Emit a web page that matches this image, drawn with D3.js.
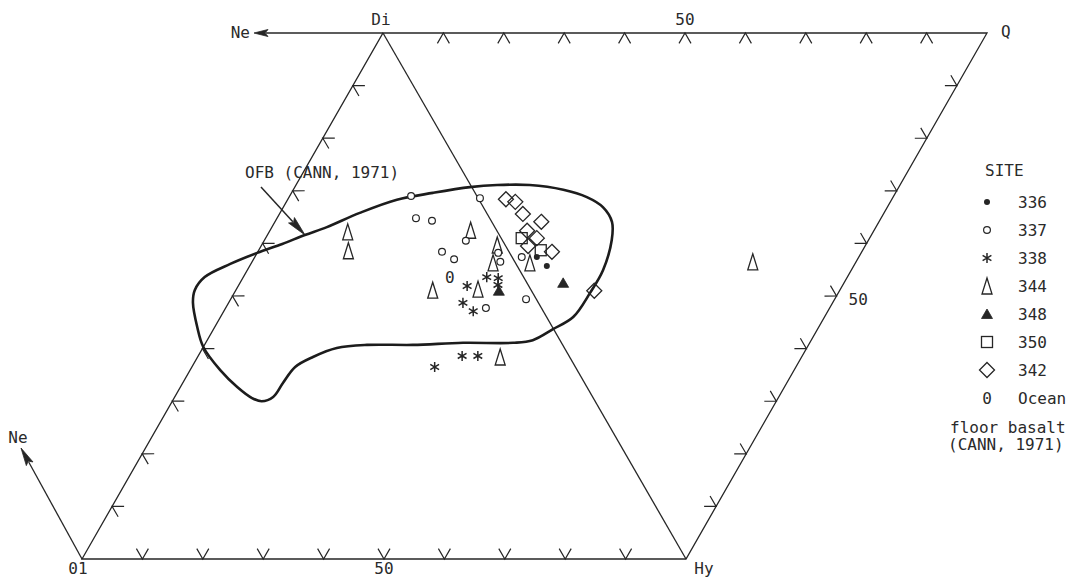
<!DOCTYPE html>
<html>
<head>
<meta charset="utf-8">
<script src="https://cdn.jsdelivr.net/npm/d3@7"></script>
<style>
  html, body { margin: 0; padding: 0; background: #fff; }
  svg text { font-family: "DejaVu Sans Mono", monospace; font-size: 16px; fill: #2a2a2a; }
</style>
</head>
<body>
<svg id="chart" width="1069" height="579"></svg>
<script>
// Normative compositions, [Ol, Di, Hy, Q] in percent
const site336 = [[0, 53.3, 42.6, 4.1], [0, 50.8, 44.3, 4.9]];
const site337 = [
  [10.9, 69.0, 20.1, 0], [0, 68.3, 31.4, 0.3], [12.2, 64.8, 23.0, 0], [9.8, 64.3, 25.9, 0],
  [6.1, 60.5, 33.4, 0], [11.1, 58.4, 30.5, 0], [9.8, 57.0, 33.2, 0], [1.9, 58.2, 39.9, 0],
  [2.4, 56.5, 41.1, 0], [0, 55.8, 42.6, 1.6], [9.2, 47.7, 43.1, 0], [1.7, 49.4, 48.9, 0]
];
const site338 = [
  [6.1, 53.6, 40.3, 0], [4.3, 53.4, 42.3, 0], [5.0, 52.1, 42.9, 0], [10.2, 51.9, 37.9, 0],
  [12.5, 48.7, 38.8, 0], [11.6, 47.1, 41.3, 0], [23.3, 36.5, 40.2, 0], [17.7, 38.6, 43.7, 0],
  [15.1, 38.6, 46.3, 0]
];
const site344 = [
  [24.8, 62.2, 13.0, 0], [26.5, 58.6, 14.9, 0], [4.3, 62.5, 33.2, 0], [1.3, 59.7, 39.0, 0],
  [3.7, 56.3, 40.0, 0], [0, 53.9, 43.7, 2.4], [16.3, 51.1, 32.6, 0], [8.7, 51.3, 40.0, 0],
  [11.5, 38.4, 50.1, 0], [0, 17.1, 43.5, 39.4]
];
const site348 = [[0, 46.5, 47.5, 6.0], [5.4, 51.0, 43.6, 0]];
const site350 = [[0, 57.6, 39.0, 3.4], [0, 53.3, 41.3, 5.4]];
const site342 = [
  [0, 63.9, 31.6, 4.5], [0, 62.1, 32.1, 5.8], [0, 59.7, 34.4, 5.9], [0, 55.9, 35.9, 8.2],
  [0, 57.4, 37.6, 5.0], [0, 55.1, 39.0, 5.9], [0, 55.8, 40.5, 3.7], [0, 51.3, 41.6, 7.1],
  [0, 40.6, 49.0, 10.4]
];
// Average ocean-floor basalt (Cann, 1971)
const oceanFloorBasalt = [[12.2, 53.6, 34.2, 0]];

// OFB field outline, projected coordinates [Di+Q, Hy+Q] in percent
const ofbOutline = [
  [61.6, 6.2], [63.1, 9.1], [65.8, 13.2], [68.3, 18.1], [69.6, 23.4], [70.7, 29.0],
  [71.1, 33.3], [71.1, 38.7], [70.2, 44.7], [68.8, 49.3], [66.9, 52.9], [64.1, 55.8],
  [60.6, 57.5], [54.9, 58.9], [50.6, 58.9], [46.0, 58.4], [43.7, 56.2], [41.6, 53.9],
  [41.1, 50.9], [41.1, 42.6], [40.7, 34.5], [40.7, 26.9], [40.1, 22.2], [38.4, 19.1],
  [36.5, 17.1], [33.5, 16.6], [30.8, 16.3], [30.0, 14.8], [30.6, 12.9], [32.7, 9.4],
  [35.9, 5.0], [40.3, 0.0], [44.1, -2.9], [48.7, -5.9], [51.1, -6.8], [53.6, -6.4],
  [56.1, -3.4], [58.2, 0.0], [59.9, 3.3]
];

const tickSteps = [10, 20, 30, 40, 50, 60, 70, 80, 90];
const legendKeys = ["336", "337", "338", "344", "348", "350", "342", "Ocean"];
const legendLabels = ["336", "337", "338", "344", "348", "350", "342", "Ocean"];

const svg = d3.select("#chart");
const ink = "#262626";

// Oblique projection: Di+Q runs up the Ol–Di edge, Hy+Q runs along Ol–Hy
const hyScale = d3.scaleLinear().domain([0, 100]).range([82, 686]);
const diShift = d3.scaleLinear().domain([0, 100]).range([0, 301]);
const diScale = d3.scaleLinear().domain([0, 100]).range([559, 33]);
const pos = (u, v) => [hyScale(v) + diShift(u), diScale(u)];
const project = ([ol, di, hy, q]) => pos(di + q, hy + q);

const P = { Ol: pos(0, 0), Hy: pos(0, 100), Di: pos(100, 0), Q: pos(100, 100) };

// Frame: parallelogram Ol–Hy–Q–Di and the Di–Hy join
const frame = svg.append("g").attr("stroke", ink).attr("stroke-width", 1.3).attr("fill", "none");
frame.append("path").attr("d", d3.line()([P.Ol, P.Hy, P.Q, P.Di]) + "Z");
frame.append("path").attr("d", d3.line()([P.Di, P.Hy]));

// Chevron tick marks every 10 %
function chevron(apex, normal, len) {
  const rot = (a) => {
    const c = Math.cos(a), s = Math.sin(a);
    return [normal[0] * c - normal[1] * s, normal[0] * s + normal[1] * c];
  };
  const a1 = rot(Math.PI / 6), a2 = rot(-Math.PI / 6);
  return d3.line()([
    [apex[0] + a1[0] * len, apex[1] + a1[1] * len],
    apex,
    [apex[0] + a2[0] * len, apex[1] + a2[1] * len]
  ]);
}
function unitNormal(a, b, inside) {
  const dx = b[0] - a[0], dy = b[1] - a[1], L = Math.hypot(dx, dy);
  let n = [-dy / L, dx / L];
  const mx = (a[0] + b[0]) / 2, my = (a[1] + b[1]) / 2;
  if ((inside[0] - mx) * n[0] + (inside[1] - my) * n[1] < 0) n = [-n[0], -n[1]];
  return n;
}
const centreLeft = pos(33, 33), centreRight = pos(67, 67);
const edges = [
  { at: (t) => pos(0, t), n: unitNormal(P.Ol, P.Hy, centreLeft) },
  { at: (t) => pos(t, 0), n: unitNormal(P.Ol, P.Di, centreLeft) },
  { at: (t) => pos(100, t), n: unitNormal(P.Di, P.Q, centreRight) },
  { at: (t) => pos(t, 100), n: unitNormal(P.Hy, P.Q, centreRight) }
];
const ticks = svg.append("g").attr("stroke", ink).attr("stroke-width", 1.2).attr("fill", "none");
edges.forEach((e) => {
  tickSteps.forEach((t) => {
    ticks.append("path").attr("d", chevron(e.at(t), e.n, 12));
  });
});

// Arrow helper (line with filled head)
function arrow(g, x1, y1, x2, y2, headLen, headHalf, w) {
  const dx = x2 - x1, dy = y2 - y1, L = Math.hypot(dx, dy);
  const ux = dx / L, uy = dy / L;
  const bx = x2 - ux * headLen, by = y2 - uy * headLen;
  g.append("line").attr("x1", x1).attr("y1", y1).attr("x2", bx + ux * 2).attr("y2", by + uy * 2)
    .attr("stroke", ink).attr("stroke-width", w);
  g.append("path")
    .attr("d", d3.line()([[x2, y2], [bx - uy * headHalf, by + ux * headHalf], [bx + ux * 3, by + uy * 3], [bx + uy * headHalf, by - ux * headHalf]]) + "Z")
    .attr("fill", ink).attr("stroke", ink).attr("stroke-width", 0.8);
}
const arrows = svg.append("g");
arrow(arrows, P.Di[0], P.Di[1], 254, P.Di[1], 14, 3.5, 1.3);
arrow(arrows, P.Ol[0], P.Ol[1], 21, 448, 18, 3.8, 1.3);

// Vertex and scale labels
const labels = svg.append("g");
labels.append("text").attr("x", P.Di[0] - 2).attr("y", 25).attr("text-anchor", "middle").text("Di");
labels.append("text").attr("x", pos(100, 50)[0]).attr("y", 25).attr("text-anchor", "middle").text("50");
labels.append("text").attr("x", P.Q[0] + 14).attr("y", 37).attr("text-anchor", "start").text("Q");
labels.append("text").attr("x", 250).attr("y", 38).attr("text-anchor", "end").text("Ne");
labels.append("text").attr("x", 18).attr("y", 443).attr("text-anchor", "middle").text("Ne");
labels.append("text").attr("x", P.Ol[0] - 4).attr("y", 574).attr("text-anchor", "middle").text("01");
labels.append("text").attr("x", pos(0, 50)[0]).attr("y", 574).attr("text-anchor", "middle").text("50");
labels.append("text").attr("x", P.Hy[0] + 18).attr("y", 574).attr("text-anchor", "middle").text("Hy");
labels.append("text").attr("x", pos(50, 100)[0] + 12).attr("y", 305).attr("text-anchor", "start").text("50");

// OFB field
const outline = d3.line()
  .x((d) => pos(d[0], d[1])[0])
  .y((d) => pos(d[0], d[1])[1])
  .curve(d3.curveCatmullRomClosed.alpha(0.5));
svg.append("path").attr("d", outline(ofbOutline))
  .attr("fill", "none").attr("stroke", "#1c1c1c").attr("stroke-width", 2.6)
  .attr("stroke-linejoin", "round");

labels.append("text").attr("x", 245).attr("y", 178).text("OFB (CANN, 1971)");
arrow(arrows, 261, 187, 305, 235, 20, 4, 1.5);

// Marker shapes per site
const markers = {
  "336": (g) => g.append("circle").attr("r", 3).attr("fill", ink),
  "337": (g) => g.append("circle").attr("r", 3.4).attr("fill", "#fff").attr("stroke", ink).attr("stroke-width", 1.2),
  "338": (g) => g.append("path").attr("d", d3.symbol(d3.symbolAsterisk, 72)()).attr("stroke", ink).attr("stroke-width", 1.5).attr("fill", "none"),
  "344": (g) => g.append("path").attr("d", "M0,-8L5,8L-5,8Z").attr("fill", "none").attr("stroke", ink).attr("stroke-width", 1.3),
  "348": (g) => g.append("path").attr("d", "M0,-5L5.5,4.5L-5.5,4.5Z").attr("fill", ink).attr("stroke", ink).attr("stroke-width", 0.8),
  "350": (g) => g.append("rect").attr("x", -5.5).attr("y", -5.5).attr("width", 11).attr("height", 11).attr("fill", "none").attr("stroke", ink).attr("stroke-width", 1.3),
  "342": (g) => g.append("path").attr("d", "M0,-7.5L7.5,0L0,7.5L-7.5,0Z").attr("fill", "none").attr("stroke", ink).attr("stroke-width", 1.3),
  "Ocean": (g) => g.append("text").attr("text-anchor", "middle").attr("dy", "0.36em").text("0")
};

const siteData = [
  ["344", site344], ["337", site337], ["342", site342], ["350", site350],
  ["338", site338], ["348", site348], ["336", site336], ["Ocean", oceanFloorBasalt]
];
const pts = svg.append("g");
siteData.forEach(([key, rows]) => {
  pts.selectAll(null).data(rows).enter().append("g")
    .attr("transform", (d) => `translate(${project(d)})`)
    .each(function () { markers[key](d3.select(this)); });
});

// Legend
const legend = svg.append("g");
legend.append("text").attr("x", 985).attr("y", 176).text("SITE");
const legendY = d3.scalePoint().domain(legendKeys).range([202, 398]);
legendKeys.forEach((k, i) => {
  const g = legend.append("g").attr("transform", `translate(987,${legendY(k)})`);
  markers[k](g);
  legend.append("text").attr("x", 1018).attr("y", legendY(k) + 6).text(legendLabels[i]);
});
legend.append("text").attr("x", 950).attr("y", 433).text("floor basalt");
legend.append("text").attr("x", 948).attr("y", 450).text("(CANN, 1971)");
</script>
</body>
</html>
